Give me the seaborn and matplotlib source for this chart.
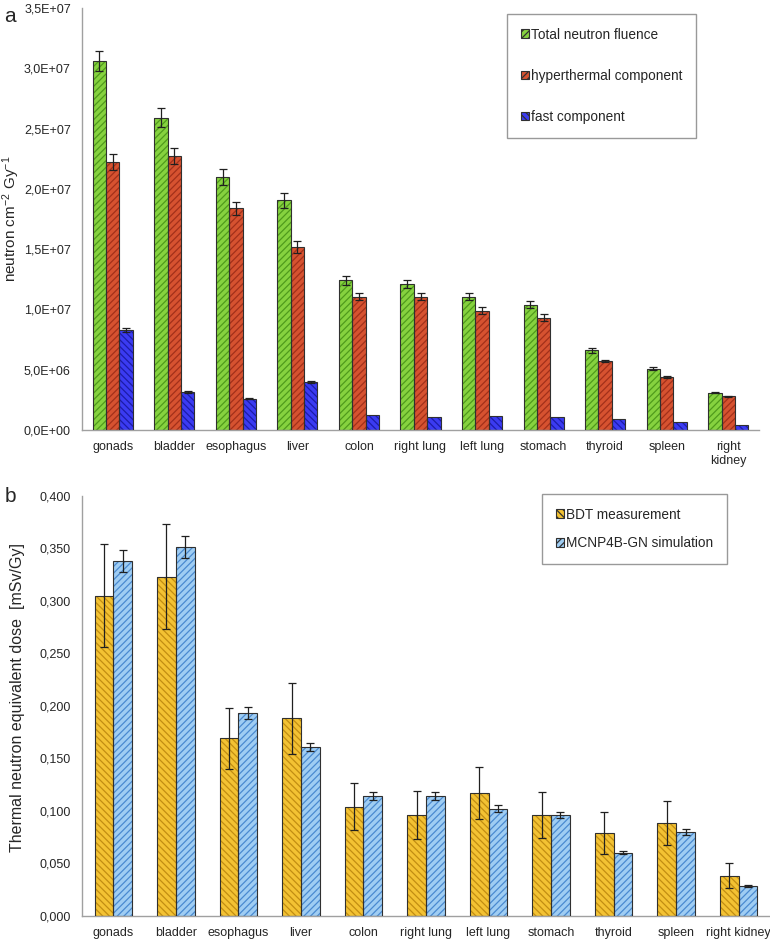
"""Neutron fluence per organ (a) and thermal neutron equivalent dose (b)."""

import matplotlib

matplotlib.use("Agg")

import matplotlib.pyplot as plt
import numpy as np
import pandas as pd
import seaborn as sns
from matplotlib.patches import Patch, Rectangle
from matplotlib.ticker import FixedLocator, FuncFormatter

# ---- data -------------------------------------------------------------
ORGANS_A = ["gonads", "bladder", "esophagus", "liver", "colon", "right lung",
            "left lung", "stomach", "thyroid", "spleen", "right\nkidney"]
ORGANS_B = ["gonads", "bladder", "esophagus", "liver", "colon", "right lung",
            "left lung", "stomach", "thyroid", "spleen", "right kidney"]

SERIES_A = ["Total neutron fluence", "hyperthermal component", "fast component"]
TOTAL = [3.06e7, 2.59e7, 2.10e7, 1.905e7, 1.24e7, 1.21e7, 1.105e7, 1.04e7, 6.6e6, 5.1e6, 3.1e6]
TOTAL_ERR = [8.5e5, 8.0e5, 6.5e5, 6.0e5, 4.0e5, 3.0e5, 3.0e5, 3.0e5, 2.0e5, 1.5e5, 7e4]
HYPER = [2.22e7, 2.27e7, 1.84e7, 1.52e7, 1.105e7, 1.105e7, 9.9e6, 9.3e6, 5.7e6, 4.4e6, 2.8e6]
HYPER_ERR = [6.5e5, 6.5e5, 5.5e5, 5.0e5, 3.0e5, 3.0e5, 3.0e5, 3.0e5, 1.0e5, 8e4, 5e4]
FAST = [8.3e6, 3.15e6, 2.6e6, 4.0e6, 1.25e6, 1.05e6, 1.15e6, 1.05e6, 9.5e5, 7.0e5, 4.0e5]
FAST_ERR = [2.0e5, 8e4, 5e4, 8e4, 0, 0, 0, 0, 0, 0, 0]

SERIES_B = ["BDT measurement", "MCNP4B-GN simulation"]
BDT = [0.305, 0.323, 0.169, 0.188, 0.104, 0.096, 0.117, 0.096, 0.079, 0.088, 0.038]
BDT_ERR = [0.049, 0.050, 0.029, 0.034, 0.022, 0.023, 0.025, 0.022, 0.020, 0.021, 0.012]
MCNP = [0.338, 0.351, 0.193, 0.161, 0.114, 0.114, 0.102, 0.096, 0.060, 0.080, 0.028]
MCNP_ERR = [0.0105, 0.0105, 0.006, 0.004, 0.004, 0.004, 0.003, 0.003, 0.0015, 0.003, 0.001]

YTICKS_A = np.arange(0, 3.5e7 + 1, 5e6)
YTICKS_B = np.arange(0, 0.4001, 0.05)

# fill colour, hatch colour, hatch pattern
STYLE_A = [("#86d23f", "#4f9a1c", "/////"),
           ("#d65230", "#a2301a", "/////"),
           ("#3b3bf2", "#1c1ca8", "\\\\\\\\\\")]
STYLE_B = [("#f3c233", "#c28d12", "\\\\\\\\\\"),
           ("#9fcdf3", "#4a8ad0", "/////")]

AXIS_GRAY = "#a0a0a0"


def long_frame(organs, names, values):
    rows = []
    for name, vals in zip(names, values):
        for organ, v in zip(organs, vals):
            rows.append({"organ": organ, "series": name, "value": v})
    return pd.DataFrame(rows)


def style_panel(ax, organs, styles, errors):
    """Hatch the bars, outline them and add the error bars."""
    for container, (face, hatch_col, hatch), err in zip(ax.containers, styles, errors):
        for bar, e in zip(container, err):
            bar.set_facecolor(face)
            bar.set_edgecolor(hatch_col)
            bar.set_hatch(hatch)
            bar.set_linewidth(0)
            ax.add_patch(Rectangle((bar.get_x(), bar.get_y()), bar.get_width(), bar.get_height(),
                                   fill=False, edgecolor="#303030", linewidth=0.8, zorder=3))
            if e > 0:
                ax.errorbar(bar.get_x() + bar.get_width() / 2, bar.get_height(), yerr=e,
                            fmt="none", ecolor="#202020", elinewidth=0.9, capsize=3,
                            capthick=0.9, zorder=4)

    ax.set_xlim(-0.5, len(organs) - 0.5)
    ax.set_xlabel("")
    for side in ("top", "right"):
        ax.spines[side].set_visible(False)
    for side in ("left", "bottom"):
        ax.spines[side].set_color(AXIS_GRAY)
        ax.spines[side].set_linewidth(1.0)
    ax.xaxis.set_minor_locator(FixedLocator(np.arange(0.5, len(organs) - 0.5, 1.0)))
    ax.tick_params(axis="x", which="major", length=0, pad=8, labelsize=9)
    ax.tick_params(axis="x", which="minor", length=4, color=AXIS_GRAY, direction="out")
    ax.tick_params(axis="y", length=4, color=AXIS_GRAY, direction="out", labelsize=9, pad=4)


def legend_handles(names, styles):
    return [Patch(facecolor=f, edgecolor="#303030", hatch=h, linewidth=0.8, label=n)
            for n, (f, _, h) in zip(names, styles)]


def main():
    sns.set_style("white")
    plt.rcParams["font.family"] = ["Liberation Sans", "DejaVu Sans"]
    plt.rcParams["mathtext.default"] = "regular"
    plt.rcParams["hatch.linewidth"] = 0.9

    fig = plt.figure(figsize=(7.7, 9.39), dpi=100)
    ax_a = fig.add_axes([82 / 770, 1 - 430 / 939, 677 / 770, 422 / 939])
    ax_b = fig.add_axes([82 / 770, 1 - 915.6 / 939, 688 / 770, 419.6 / 939])

    # ---- panel a ----
    df_a = long_frame(ORGANS_A, SERIES_A, [TOTAL, HYPER, FAST])
    sns.barplot(data=df_a, x="organ", y="value", hue="series", order=ORGANS_A,
                hue_order=SERIES_A, errorbar=None, width=0.65, legend=False, ax=ax_a)
    style_panel(ax_a, ORGANS_A, STYLE_A, [TOTAL_ERR, HYPER_ERR, FAST_ERR])
    ax_a.set_ylim(0, 3.5e7)
    ax_a.set_yticks(YTICKS_A)
    ax_a.yaxis.set_major_formatter(FuncFormatter(lambda v, _: f"{v:.1E}".replace(".", ",")))
    ax_a.set_ylabel("neutron cm$^{-2}$ Gy$^{-1}$", fontsize=11)
    ax_a.yaxis.set_label_coords(-0.089, 0.5)
    ax_a.legend(handles=legend_handles(SERIES_A, STYLE_A), loc="upper left",
                bbox_to_anchor=(0.628, 0.986), fontsize=9.8, frameon=True, fancybox=False,
                edgecolor="#808080", handlelength=0.6, handleheight=0.6, handletextpad=0.15,
                labelspacing=2.0, borderpad=1.0, borderaxespad=0)
    fig.text(0.006, 1 - 16 / 939, "a", fontsize=15, va="center")

    # ---- panel b ----
    df_b = long_frame(ORGANS_B, SERIES_B, [BDT, MCNP])
    sns.barplot(data=df_b, x="organ", y="value", hue="series", order=ORGANS_B,
                hue_order=SERIES_B, errorbar=None, width=0.6, legend=False, ax=ax_b)
    style_panel(ax_b, ORGANS_B, STYLE_B, [BDT_ERR, MCNP_ERR])
    ax_b.set_ylim(0, 0.4)
    ax_b.set_yticks(YTICKS_B)
    ax_b.yaxis.set_major_formatter(FuncFormatter(lambda v, _: f"{v:.3f}".replace(".", ",")))
    ax_b.set_ylabel("Thermal neutron equivalent dose  [mSv/Gy]", fontsize=11.5)
    ax_b.yaxis.set_label_coords(-0.083, 0.52)
    ax_b.legend(handles=legend_handles(SERIES_B, STYLE_B), loc="upper left",
                bbox_to_anchor=(0.669, 1.005), fontsize=9.8, frameon=True, fancybox=False,
                edgecolor="#808080", handlelength=0.6, handleheight=0.6, handletextpad=0.15,
                labelspacing=1.1, borderpad=1.0, borderaxespad=0)
    fig.text(0.006, 1 - 497 / 939, "b", fontsize=15, va="center")

    fig.savefig("out.png", dpi=100)
    plt.close(fig)


if __name__ == "__main__":
    main()
